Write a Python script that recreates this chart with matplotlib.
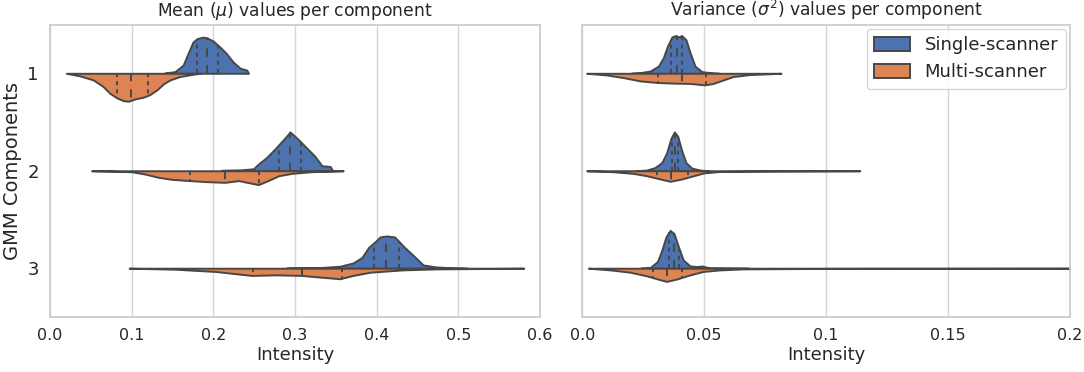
import numpy as np
import matplotlib
matplotlib.use("Agg")
import matplotlib.pyplot as plt
from matplotlib.patches import Patch

# ---------------- data ----------------
components = ["1", "2", "3"]
groups = ["Single-scanner", "Multi-scanner"]
group_colors = ["#4C72B0", "#DD8452"]

# Density profiles: intensity grid and half-width (category units); quartiles
mu_single_1_x = [0.141, 0.153, 0.163, 0.169, 0.175, 0.180, 0.187, 0.192, 0.200, 0.208, 0.216, 0.224, 0.233, 0.241, 0.243]
mu_single_1_w = [0.004, 0.017, 0.084, 0.203, 0.320, 0.355, 0.371, 0.365, 0.330, 0.270, 0.203, 0.118, 0.051, 0.033, 0.0]
mu_single_1_q = [0.180, 0.192, 0.206]
mu_multi_1_x = [0.020, 0.037, 0.053, 0.065, 0.073, 0.082, 0.090, 0.096, 0.104, 0.114, 0.122, 0.131, 0.139, 0.147, 0.159, 0.175, 0.184]
mu_multi_1_w = [0.0, 0.027, 0.068, 0.135, 0.203, 0.253, 0.281, 0.287, 0.263, 0.246, 0.220, 0.169, 0.108, 0.068, 0.033, 0.010, 0.0]
mu_multi_1_q = [0.082, 0.099, 0.120]

mu_single_2_x = [0.210, 0.235, 0.249, 0.255, 0.265, 0.275, 0.286, 0.294, 0.304, 0.314, 0.324, 0.333, 0.343, 0.346]
mu_single_2_w = [0.005, 0.010, 0.020, 0.068, 0.135, 0.220, 0.321, 0.398, 0.321, 0.236, 0.152, 0.051, 0.044, 0.0]
mu_single_2_q = [0.280, 0.294, 0.307]
mu_multi_2_x = [0.051, 0.100, 0.116, 0.133, 0.149, 0.171, 0.190, 0.214, 0.231, 0.243, 0.255, 0.265, 0.280, 0.296, 0.320, 0.359]
mu_multi_2_w = [0.0, 0.010, 0.033, 0.068, 0.088, 0.101, 0.111, 0.119, 0.101, 0.122, 0.142, 0.108, 0.051, 0.027, 0.010, 0.0]
mu_multi_2_q = [0.171, 0.214, 0.256]

mu_single_3_x = [0.290, 0.331, 0.355, 0.371, 0.382, 0.390, 0.398, 0.404, 0.412, 0.422, 0.433, 0.445, 0.457, 0.473, 0.494, 0.511]
mu_single_3_w = [0.003, 0.007, 0.020, 0.054, 0.111, 0.213, 0.271, 0.321, 0.331, 0.321, 0.223, 0.129, 0.033, 0.013, 0.003, 0.0]
mu_single_3_q = [0.397, 0.412, 0.427]
mu_multi_3_x = [0.097, 0.153, 0.202, 0.247, 0.276, 0.308, 0.331, 0.355, 0.371, 0.392, 0.432, 0.473, 0.580]
mu_multi_3_w = [0.0, 0.010, 0.033, 0.074, 0.068, 0.074, 0.091, 0.108, 0.074, 0.041, 0.017, 0.007, 0.0]
mu_multi_3_q = [0.248, 0.308, 0.358]

var_single_1_x = [0.020, 0.0237, 0.0278, 0.0312, 0.0332, 0.0349, 0.0367, 0.0384, 0.0395, 0.0407, 0.0425, 0.0442, 0.0462, 0.0490, 0.0537, 0.056]
var_single_1_w = [0.0, 0.007, 0.023, 0.074, 0.159, 0.277, 0.372, 0.388, 0.372, 0.388, 0.344, 0.210, 0.074, 0.017, 0.003, 0.0]
var_single_1_q = [0.0362, 0.0387, 0.0410]
var_multi_1_x = [0.0018, 0.0100, 0.0168, 0.0237, 0.0305, 0.0373, 0.0442, 0.0503, 0.0537, 0.0578, 0.0619, 0.0688, 0.0815]
var_multi_1_w = [0.0, 0.017, 0.044, 0.078, 0.094, 0.101, 0.104, 0.119, 0.104, 0.068, 0.033, 0.013, 0.0]
var_multi_1_q = [0.0309, 0.0408, 0.0506]

var_single_2_x = [0.022, 0.0264, 0.0298, 0.0326, 0.0346, 0.0362, 0.0377, 0.0391, 0.0408, 0.0425, 0.0449, 0.0483, 0.052]
var_single_2_w = [0.0, 0.007, 0.033, 0.084, 0.185, 0.321, 0.398, 0.355, 0.203, 0.084, 0.027, 0.007, 0.0]
var_single_2_q = [0.0367, 0.0380, 0.0394]
var_multi_2_x = [0.0018, 0.0127, 0.0209, 0.0264, 0.0319, 0.0360, 0.0401, 0.0442, 0.0496, 0.0565, 0.080, 0.1138]
var_multi_2_w = [0.0, 0.010, 0.027, 0.051, 0.084, 0.108, 0.088, 0.061, 0.023, 0.007, 0.003, 0.0]
var_multi_2_q = [0.0305, 0.0364, 0.0435]

var_single_3_x = [0.024, 0.0278, 0.0308, 0.0326, 0.0343, 0.0360, 0.0376, 0.0394, 0.0414, 0.0442, 0.0470, 0.0490, 0.0524, 0.068]
var_single_3_w = [0.0, 0.007, 0.068, 0.185, 0.321, 0.388, 0.355, 0.220, 0.084, 0.023, 0.017, 0.023, 0.003, 0.0]
var_single_3_q = [0.0357, 0.0377, 0.0398]
var_multi_3_x = [0.0025, 0.0114, 0.0196, 0.0264, 0.0319, 0.0346, 0.0387, 0.0442, 0.0496, 0.0565, 0.066, 0.100, 0.200]
var_multi_3_w = [0.0, 0.017, 0.041, 0.078, 0.118, 0.135, 0.111, 0.068, 0.033, 0.017, 0.007, 0.002, 0.0]
var_multi_3_q = [0.0291, 0.0346, 0.0407]

mean_ticks = [0.0, 0.1, 0.2, 0.3, 0.4, 0.5, 0.6]
mean_ticklabels = ["0.0", "0.1", "0.2", "0.3", "0.4", "0.5", "0.6"]
var_ticks = [0.0, 0.05, 0.1, 0.15, 0.2]
var_ticklabels = ["0.0", "0.05", "0.1", "0.15", "0.2"]

mean_panel = [
    [(mu_single_1_x, mu_single_1_w, mu_single_1_q), (mu_multi_1_x, mu_multi_1_w, mu_multi_1_q)],
    [(mu_single_2_x, mu_single_2_w, mu_single_2_q), (mu_multi_2_x, mu_multi_2_w, mu_multi_2_q)],
    [(mu_single_3_x, mu_single_3_w, mu_single_3_q), (mu_multi_3_x, mu_multi_3_w, mu_multi_3_q)],
]
var_panel = [
    [(var_single_1_x, var_single_1_w, var_single_1_q), (var_multi_1_x, var_multi_1_w, var_multi_1_q)],
    [(var_single_2_x, var_single_2_w, var_single_2_q), (var_multi_2_x, var_multi_2_w, var_multi_2_q)],
    [(var_single_3_x, var_single_3_w, var_single_3_q), (var_multi_3_x, var_multi_3_w, var_multi_3_q)],
]

# ---------------- style ----------------
plt.rcParams["font.family"] = ["DejaVu Sans"]
text_color = "#262626"
edge_gray = "#474747"
lw = 1.4

fig = plt.figure(figsize=(10.84, 3.72), dpi=100)
ax1 = fig.add_axes([0.0461, 0.148, 0.4521, 0.786])
ax2 = fig.add_axes([0.5372, 0.148, 0.4499, 0.786])


def draw_panel(ax, panel):
    for ci, pair in enumerate(panel):
        for gi, (xs, ws, qs) in enumerate(pair):
            xs = np.asarray(xs)
            ws = np.asarray(ws)
            sign = -1 if gi == 0 else 1
            ax.fill_between(xs, ci, ci + sign * ws, facecolor=group_colors[gi],
                            edgecolor=edge_gray, linewidth=lw, zorder=2)
            for k, q in enumerate(qs):
                h = np.interp(q, xs, ws)
                d = 4.2 if k == 1 else 2.1
                ax.plot([q, q], [ci, ci + sign * h], color=edge_gray,
                        linewidth=lw, dashes=[d, d], zorder=3)


def style_axes(ax, title, ticks, labels, xmax):
    ax.set_xlim(0, xmax)
    ax.set_ylim(2.5, -0.5)
    ax.set_xticks(ticks)
    ax.set_xticklabels(labels)
    ax.set_facecolor("white")
    ax.grid(axis="x", color="#d5d5d5", linewidth=1.0, zorder=0)
    ax.set_axisbelow(True)
    for s in ax.spines.values():
        s.set_color("#cccccc")
        s.set_linewidth(1.25)
    ax.tick_params(axis="both", length=0, labelsize=11.5, colors=text_color, pad=8)
    ax.set_xlabel("Intensity", fontsize=13, color=text_color, labelpad=2)
    ax.set_title(title, fontsize=12.3, color=text_color, pad=6)


draw_panel(ax1, mean_panel)
draw_panel(ax2, var_panel)
style_axes(ax1, r"Mean ($\mu$) values per component", mean_ticks, mean_ticklabels, 0.6)
style_axes(ax2, r"Variance ($\sigma^2$) values per component", var_ticks, var_ticklabels, 0.2)

ax1.set_yticks(range(len(components)))
ax1.set_yticklabels(components, fontsize=13)
ax1.set_ylabel("GMM Components", fontsize=14, color=text_color, labelpad=4)
ax2.set_yticks(range(len(components)))
ax2.set_yticklabels([])

handles = [Patch(facecolor=c, edgecolor=edge_gray, linewidth=lw) for c in group_colors]
leg = ax2.legend(handles, groups, loc="upper right", fontsize=13, frameon=True,
                 borderaxespad=0.25, handlelength=2.0, handleheight=0.75)
leg.get_frame().set_edgecolor("#cccccc")
for t in leg.get_texts():
    t.set_color(text_color)

fig.savefig("out.png", dpi=100, facecolor="white")
